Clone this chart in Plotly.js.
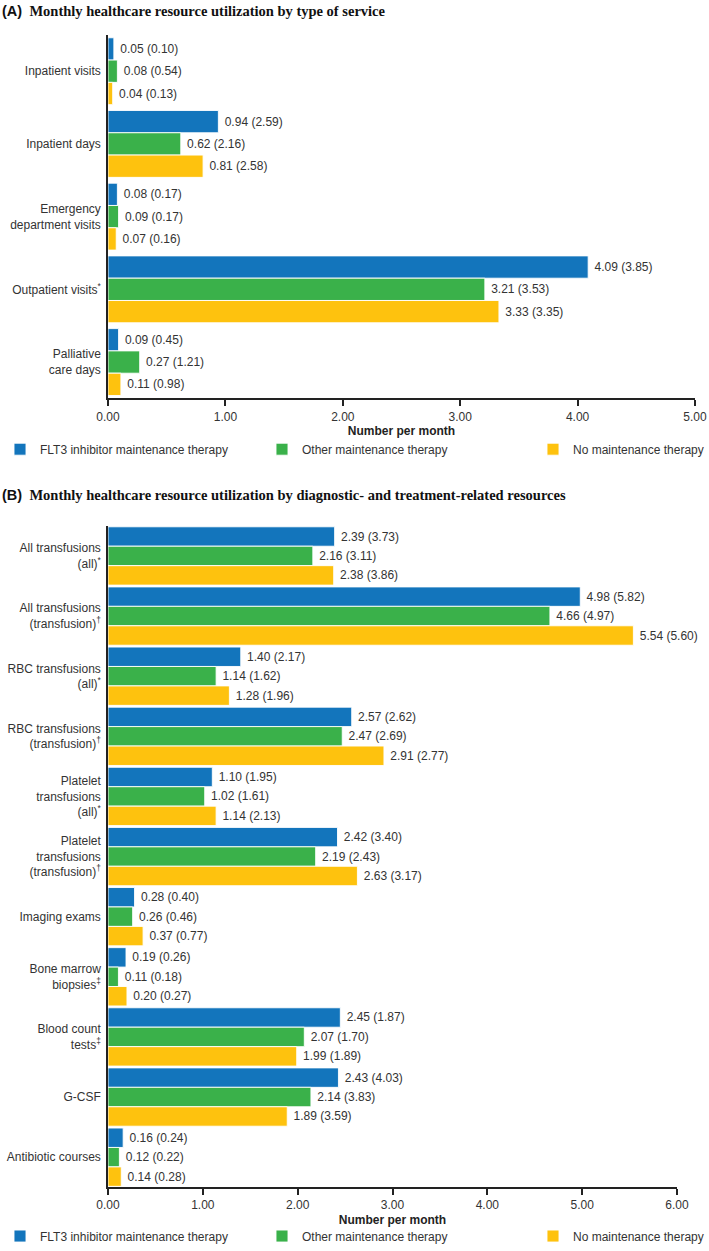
<!DOCTYPE html>
<html>
<head>
<meta charset="utf-8">
<script src="https://cdn.plot.ly/plotly-3.0.1.min.js"></script>
<style>html,body{margin:0;padding:0;background:#fff;}#chart{width:709px;height:1251px;}</style>
</head>
<body>
<div id="chart"></div>
<script>
// ---------- Data ----------
const seriesNames = ['FLT3 inhibitor maintenance therapy', 'Other maintenance therapy', 'No maintenance therapy'];
const seriesColors = ['#1375bc', '#3ab14a', '#fec20e'];

// Panel A
const categoriesA = ['Inpatient visits', 'Inpatient days', 'Emergency<br>department visits', 'Outpatient visits<sup>*</sup>', 'Palliative<br>care days'];
const flt3MeanA  = [0.05, 0.94, 0.08, 4.09, 0.09];
const flt3SdA    = [0.10, 2.59, 0.17, 3.85, 0.45];
const otherMeanA = [0.08, 0.62, 0.09, 3.21, 0.27];
const otherSdA   = [0.54, 2.16, 0.17, 3.53, 1.21];
const noneMeanA  = [0.04, 0.81, 0.07, 3.33, 0.11];
const noneSdA    = [0.13, 2.58, 0.16, 3.35, 0.98];
const xTicksA = [0, 1, 2, 3, 4, 5];

// Panel B
const categoriesB = [
  'All transfusions<br>(all)<sup>*</sup>',
  'All transfusions<br>(transfusion)<sup>†</sup>',
  'RBC transfusions<br>(all)<sup>*</sup>',
  'RBC transfusions<br>(transfusion)<sup>†</sup>',
  'Platelet<br>transfusions<br>(all)<sup>*</sup>',
  'Platelet<br>transfusions<br>(transfusion)<sup>†</sup>',
  'Imaging exams',
  'Bone marrow<br>biopsies<sup>‡</sup>',
  'Blood count<br>tests<sup>‡</sup>',
  'G-CSF',
  'Antibiotic courses'
];
const flt3MeanB  = [2.39, 4.98, 1.40, 2.57, 1.10, 2.42, 0.28, 0.19, 2.45, 2.43, 0.16];
const flt3SdB    = [3.73, 5.82, 2.17, 2.62, 1.95, 3.40, 0.40, 0.26, 1.87, 4.03, 0.24];
const otherMeanB = [2.16, 4.66, 1.14, 2.47, 1.02, 2.19, 0.26, 0.11, 2.07, 2.14, 0.12];
const otherSdB   = [3.11, 4.97, 1.62, 2.69, 1.61, 2.43, 0.46, 0.18, 1.70, 3.83, 0.22];
const noneMeanB  = [2.38, 5.54, 1.28, 2.91, 1.14, 2.63, 0.37, 0.20, 1.99, 1.89, 0.14];
const noneSdB    = [3.86, 5.60, 1.96, 2.77, 2.13, 3.17, 0.77, 0.27, 1.89, 3.59, 0.28];
const xTicksB = [0, 1, 2, 3, 4, 5, 6];

// ---------- Build ----------
const FONT = 'Arial, "Liberation Sans", sans-serif';
const TXT = '#333333';
const lbl = (m, s) => m.map((v, i) => ' ' + v.toFixed(2) + ' (' + s[i].toFixed(2) + ')');

// gap between category groups (fraction of category slot), per panel
const GAP_A = 0.08, GAP_B = 0.03;

function bar(cats, mean, sd, k, xa, ya, legend, gap) {
  const w = (1 - gap) / 3;
  return {
    type: 'bar', orientation: 'h',
    y: cats, x: mean,
    name: seriesNames[k],
    xaxis: xa, yaxis: ya, legend: legend, showlegend: true,
    width: w, offset: -(1 - gap) / 2 + k * w,
    marker: {color: seriesColors[k], line: {color: 'rgba(255,255,255,0.9)', width: 1}},
    text: lbl(mean, sd), textposition: 'outside', constraintext: 'none', cliponaxis: false,
    textfont: {family: FONT, size: 12, color: TXT},
    hoverinfo: 'x+y+name'
  };
}

const data = [
  bar(categoriesA, flt3MeanA, flt3SdA, 0, 'x', 'y', 'legend', GAP_A),
  bar(categoriesA, otherMeanA, otherSdA, 1, 'x', 'y', 'legend2', GAP_A),
  bar(categoriesA, noneMeanA, noneSdA, 2, 'x', 'y', 'legend3', GAP_A),
  bar(categoriesB, flt3MeanB, flt3SdB, 0, 'x2', 'y2', 'legend4', GAP_B),
  bar(categoriesB, otherMeanB, otherSdB, 1, 'x2', 'y2', 'legend5', GAP_B),
  bar(categoriesB, noneMeanB, noneSdB, 2, 'x2', 'y2', 'legend6', GAP_B)
];

const W = 709, H = 1251;
const px = v => v / W;
const py = v => 1 - v / H;

function xax(range, ticks, anchor, dom) {
  return {
    domain: dom, anchor: anchor, range: range, tickvals: ticks,
    ticktext: ticks.map(t => t.toFixed(2)),
    showline: true, linecolor: '#222', linewidth: 1.5, mirror: false,
    ticks: 'outside', ticklen: 6, tickwidth: 1.5, tickcolor: '#222',
    showgrid: false, zeroline: false, automargin: false,
    ticklabeloverflow: 'allow',
    tickfont: {family: FONT, size: 12, color: TXT},
    title: {text: '<b>Number per month</b>', font: {family: FONT, size: 12, color: '#222'}, standoff: 4},
    fixedrange: true
  };
}
function yax(anchor, dom) {
  return {
    domain: dom, anchor: anchor, type: 'category', autorange: 'reversed',
    showline: true, linecolor: '#222', linewidth: 1.5,
    ticks: '', showgrid: false, zeroline: false, automargin: false,
    ticklabelstandoff: 3,
    tickfont: {family: FONT, size: 12, color: TXT},
    fixedrange: true
  };
}
function leg(xPx, yPx, anchor) {
  return {orientation: 'h', x: px(xPx), xanchor: anchor || 'left', y: py(yPx), yanchor: 'middle',
          itemwidth: 30, bgcolor: 'rgba(0,0,0,0)', borderwidth: 0, visible: true,
          font: {family: FONT, size: 12, color: TXT}};
}

const layout = {
  width: W, height: H,
  margin: {l: 0, r: 0, t: 0, b: 0},
  showlegend: true,
  paper_bgcolor: '#fff', plot_bgcolor: '#fff',
  barmode: 'group',
  font: {family: FONT, size: 12, color: TXT},
  xaxis: xax([0, 5], xTicksA, 'y', [px(108), px(695)]),
  yaxis: yax('x', [py(400), py(35)]),
  xaxis2: xax([0, 6], xTicksB, 'y2', [px(108), px(677)]),
  yaxis2: yax('x2', [py(1192), py(528)]),
  legend: leg(0, 451), legend2: leg(262, 451), legend3: leg(709, 451, 'right'),
  legend4: leg(0, 1241), legend5: leg(262, 1241), legend6: leg(709, 1241, 'right'),
  annotations: [
    {xref: 'paper', yref: 'paper', x: 0, y: py(11), xanchor: 'left', yanchor: 'middle', showarrow: false,
     text: '<b><span style="font-family:Arial, Liberation Sans, sans-serif">(A)</span>  Monthly healthcare resource utilization by type of service</b>',
     font: {family: '"Liberation Serif", "Times New Roman", serif', size: 14.5, color: '#111'}},
    {xref: 'paper', yref: 'paper', x: 0, y: py(497), xanchor: 'left', yanchor: 'middle', showarrow: false,
     text: '<b><span style="font-family:Arial, Liberation Sans, sans-serif">(B)</span>  Monthly healthcare resource utilization by diagnostic- and treatment-related resources</b>',
     font: {family: '"Liberation Serif", "Times New Roman", serif', size: 14.5, color: '#111'}}
  ]
};

Plotly.newPlot('chart', data, layout, {displayModeBar: false});
</script>
</body>
</html>
